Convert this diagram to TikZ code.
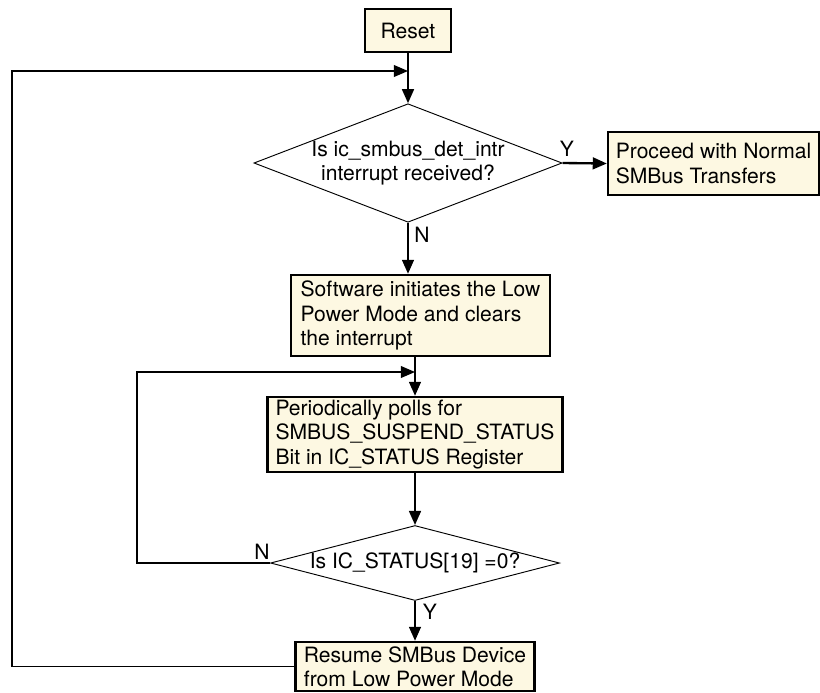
\documentclass[tikz,border=0pt]{standalone}
\usepackage{fontspec}
\setmainfont{TeX Gyre Heros}
\usetikzlibrary{arrows.meta,shapes.geometric}
\definecolor{boxfill}{RGB}{253,248,226}

\begin{document}
\begin{tikzpicture}[>={Triangle[length=12pt,width=10pt]},x=.03cm,y=-.03cm,
  every node/.style={font=\fontsize{18}{20.7}\selectfont},
  box/.style={draw,fill=boxfill,line width=2pt,align=left,inner sep=0pt},
  decide/.style={draw,diamond,line width=.8pt,align=center,inner sep=0pt},
  flow/.style={->,line width=2pt},
  loopback/.style={->,line width=1.2pt}]
\useasboundingbox (0,0) rectangle (820,692);
\node[box,minimum width=2.58cm,minimum height=1.29cm] (reset) at (408,30.5) {Reset};
\node[decide,aspect=2.6,minimum width=8.82cm,minimum height=3.36cm] (det) at (408,163) {Is ic\_smbus\_det\_intr\\interrupt received?};
\node[box,minimum width=6.33cm,minimum height=1.89cm] (normal) at (713.5,163.5) {Proceed with Normal\\SMBus Transfers};
\node[box,minimum width=7.77cm,minimum height=2.43cm] (lowpwr) at (420.5,315.5) {Software initiates the Low\\Power Mode and clears\\the interrupt};
\node[box,minimum width=8.85cm,minimum height=2.25cm] (poll) at (415,434.5) {Periodically polls for\\SMBUS\_SUSPEND\_STATUS\\Bit in IC\_STATUS Register};
\node[decide,aspect=3.85,minimum width=8.67cm,minimum height=2.25cm] (stat) at (415,563) {Is IC\_STATUS[19] =0?};
\node[box,minimum width=7.17cm,minimum height=1.47cm] (resume) at (415,666.5) {Resume SMBus Device\\from Low Power Mode};
% branch labels
\node (y1) at (567,149) {Y};\node (n1) at (422,235) {N};
\node (n2) at (262,552) {N};\node (y2) at (430,612) {Y};
% loop corners and joins
\coordinate (in1) at (12,71);\coordinate (j1) at (408,71);
\coordinate (in2) at (137,372);\coordinate (j2) at (415,372);
\draw[flow] (reset) -- (det);
\draw[flow] (det.east) -- (normal.west);
\draw[flow] (det.south) -- (det.south |- lowpwr.north);
\draw[flow] (lowpwr.south -| poll.north) -- (poll.north);
\draw[flow] (poll) -- (stat);
\draw[flow] (stat) -- (resume);
\draw[loopback] (resume.west) -| (in1) -- (j1);
\draw[loopback] (stat.west) -| (in2) -- (j2);
\end{tikzpicture}
\end{document}
